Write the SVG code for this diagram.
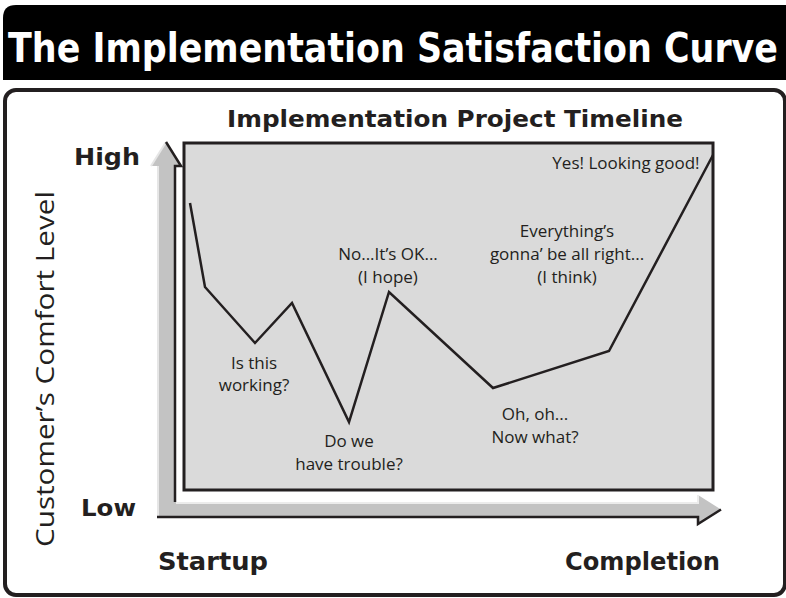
<svg xmlns="http://www.w3.org/2000/svg" width="786" height="598" viewBox="0 0 786 598">
<style>
.lbl{font-family:"Open Sans","DejaVu Sans",sans-serif;font-size:17px;fill:#231f20;text-anchor:middle}
.hd{font-family:"DejaVu Sans","Liberation Sans",sans-serif;font-weight:bold;fill:#231f20}
.curve{fill:none;stroke:#231f20;stroke-width:2.5;stroke-linejoin:miter}
</style>
<rect width="786" height="598" fill="#ffffff"/>
<g id="title">
<path d="M3,80 V18 Q3,5 16,5 H786 V80 Z" fill="#000000"/>
<text x="8" y="62" font-family="'DejaVu Sans Condensed','DejaVu Sans',sans-serif" font-weight="bold" font-size="41" fill="#ffffff" textLength="770" lengthAdjust="spacingAndGlyphs">The Implementation Satisfaction Curve</text>
</g>
<g id="frame">
<rect x="5" y="90" width="780" height="505" rx="11" fill="none" stroke="#231f20" stroke-width="4"/>
</g>
<g id="chart">
<rect x="184" y="143" width="529" height="347" fill="#dadada" stroke="#231f20" stroke-width="3"/>
</g>
<g id="axes">
<polygon points="166,142 181,166 175,166 175,502 698,502 698,495 721,509.5 698,524 698,517 157,517 157,166 151,166" fill="#c3c3c3"/>
<polyline points="151,166 166,142" fill="none" stroke="#e6e6e6" stroke-width="2"/>
<polyline points="158,166 158,516" fill="none" stroke="#e6e6e6" stroke-width="2"/>
<polyline points="176,503 698,503 698,495" fill="none" stroke="#ececec" stroke-width="2"/>
<polyline points="166,142 181,166 175,166 175,502" fill="none" stroke="#231f20" stroke-width="2.5"/>
<polyline points="157,517 698,517 698,524 721,509.5" fill="none" stroke="#231f20" stroke-width="2.5"/>
</g>
<g id="connectors">
<polyline class="curve" points="190,203 205,287 255,343 292,303 349,422 389,292 493,388 609,351 713,155"/>
</g>
<g id="headings">
<text class="hd" x="227" y="127" font-size="23" textLength="456" lengthAdjust="spacingAndGlyphs">Implementation Project Timeline</text>
<text class="hd" x="74" y="165" font-size="23" textLength="66" lengthAdjust="spacingAndGlyphs">High</text>
<text class="hd" x="81" y="516" font-size="23" textLength="55" lengthAdjust="spacingAndGlyphs">Low</text>
<text class="hd" x="158" y="570" font-size="24" textLength="110" lengthAdjust="spacingAndGlyphs">Startup</text>
<text class="hd" x="565" y="570" font-size="24" textLength="155" lengthAdjust="spacingAndGlyphs">Completion</text>
<text transform="translate(54,369) rotate(-90)" text-anchor="middle" font-family="'Open Sans','DejaVu Sans',sans-serif" font-size="26" fill="#231f20" textLength="356" lengthAdjust="spacingAndGlyphs">Customer’s Comfort Level</text>
</g>
<g id="label-yes"><text class="lbl" x="626" y="169">Yes! Looking good!</text></g>
<g id="label-everything">
<text class="lbl" x="567" y="237">Everything’s</text>
<text class="lbl" x="567" y="260">gonna’ be all right...</text>
<text class="lbl" x="567" y="283">(I think)</text>
</g>
<g id="label-ok">
<text class="lbl" x="388" y="260">No...It’s OK...</text>
<text class="lbl" x="388" y="283">(I hope)</text>
</g>
<g id="label-working">
<text class="lbl" x="254" y="369">Is this</text>
<text class="lbl" x="254" y="391">working?</text>
</g>
<g id="label-trouble">
<text class="lbl" x="349" y="447">Do we</text>
<text class="lbl" x="349" y="470">have trouble?</text>
</g>
<g id="label-oh">
<text class="lbl" x="535" y="420">Oh, oh...</text>
<text class="lbl" x="535" y="443">Now what?</text>
</g>
</svg>
